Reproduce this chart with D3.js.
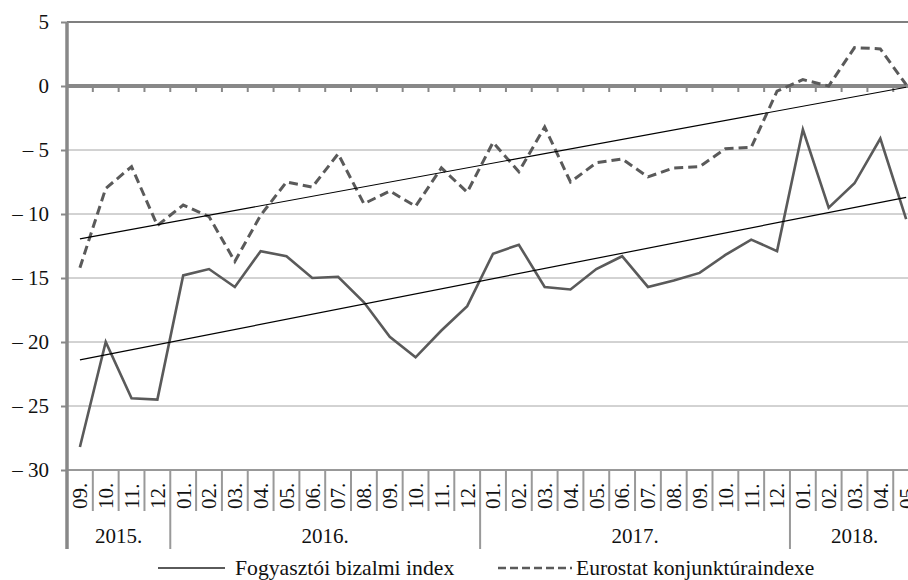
<!DOCTYPE html>
<html>
<head>
<meta charset="utf-8">
<script src="https://cdn.jsdelivr.net/npm/d3@7"></script>
<style>
  body { margin: 0; background: #fff; }
  svg text { font-family: "Liberation Serif", "Times New Roman", Tinos, "DejaVu Serif", serif !important; }
</style>
</head>
<body>
<svg id="chart" width="908" height="580"></svg>
<script>
// data
var months = ["09.","10.","11.","12.",
    "01.","02.","03.","04.","05.","06.","07.","08.","09.","10.","11.","12.",
    "01.","02.","03.","04.","05.","06.","07.","08.","09.","10.","11.","12.",
    "01.","02.","03.","04.","05."];
var years = ["2015.", "2016.", "2017.", "2018."];
var monthsInYear = [4, 12, 12, 5];

var fogyasztoi = [-28.2, -20.0, -24.4, -24.5,
    -14.8, -14.3, -15.7, -12.9, -13.3, -15.0, -14.9, -16.9, -19.6, -21.2, -19.1, -17.2,
    -13.1, -12.4, -15.7, -15.9, -14.3, -13.3, -15.7, -15.2, -14.6, -13.2, -12.0, -12.9,
    -3.4, -9.5, -7.6, -4.1, -10.4];
var eurostat = [-14.2, -8.0, -6.3, -10.9,
    -9.3, -10.2, -13.7, -10.1, -7.5, -7.9, -5.3, -9.2, -8.2, -9.4, -6.4, -8.3,
    -4.4, -6.7, -3.2, -7.5, -6.0, -5.7, -7.1, -6.4, -6.3, -4.9, -4.8, -0.4,
    0.5, 0.0, 3.0, 2.9, 0.1];

// trend lines: value at first and last month
var fogyasztoiTrend = [-21.4, -8.7];
var eurostatTrend = [-11.95, -0.1];

var yTicks = [5, 0, -5, -10, -15, -20, -25, -30];
var legendNames = ["Fogyasztói bizalmi index", "Eurostat konjunktúraindexe"];

var xpad = 67;
var bandW = 25.82;
var yTop = 22;
var yBottom = 470;
var lineColor = "#5a5a5a";

var svg = d3.select("#chart");

var xScale = d3.scaleBand()
    .domain(d3.range(months.length))
    .range([xpad, xpad + bandW * months.length])
    .padding(0);

var yScale = d3.scaleLinear()
    .domain([-30, 5])
    .range([yBottom, yTop]);

function cx(i) { return xScale(i) + xScale.bandwidth() / 2; }

//---GRID
svg.append("g")
    .selectAll("line")
    .data(yTicks.filter(function(d) { return d < 0 && d > -30; }))
    .enter().append("line")
    .attr("x1", xpad).attr("x2", 920)
    .attr("y1", function(d) { return yScale(d); })
    .attr("y2", function(d) { return yScale(d); })
    .attr("stroke", "#a6a6a6")
    .attr("stroke-width", 1);

svg.append("line")
    .attr("x1", xpad).attr("x2", 920)
    .attr("y1", yScale(5)).attr("y2", yScale(5))
    .attr("stroke", "#555").attr("stroke-width", 1.5);

svg.append("line")
    .attr("x1", xpad).attr("x2", 920)
    .attr("y1", yScale(-30)).attr("y2", yScale(-30))
    .attr("stroke", "#333").attr("stroke-width", 1);

// zero line with small ticks under it
svg.append("line")
    .attr("x1", xpad).attr("x2", 920)
    .attr("y1", yScale(0)).attr("y2", yScale(0))
    .attr("stroke", "#888").attr("stroke-width", 4);

svg.append("g")
    .selectAll("line")
    .data(d3.range(1, months.length))
    .enter().append("line")
    .attr("x1", function(d) { return xScale(d); })
    .attr("x2", function(d) { return xScale(d); })
    .attr("y1", yScale(0))
    .attr("y2", yScale(0) + 6)
    .attr("stroke", "#888").attr("stroke-width", 2);

//---Y AXIS
var yAxis = svg.append("g")
    .attr("transform", "translate(" + xpad + ",0)")
    .call(d3.axisLeft(yScale)
        .tickValues(yTicks)
        .tickSize(6)
        .tickPadding(12)
        .tickFormat(function(d) { return d < 0 ? "\u2013 " + Math.abs(d) : d; }));

yAxis.select(".domain").remove();
yAxis.selectAll(".tick line").attr("stroke", "#888").attr("stroke-width", 2);
yAxis.selectAll(".tick text")
    .attr("font-size", 21)
    .attr("fill", "#111");

svg.append("line")
    .attr("x1", xpad).attr("x2", xpad)
    .attr("y1", yTop).attr("y2", 549)
    .attr("stroke", "#888").attr("stroke-width", 3.5);

//---CATEGORY AXIS
var yearStart = [0];
monthsInYear.forEach(function(n, i) { yearStart.push(yearStart[i] + n); });

svg.append("g")
    .selectAll("line")
    .data(d3.range(1, months.length))
    .enter().append("line")
    .attr("x1", function(d) { return xScale(d); })
    .attr("x2", function(d) { return xScale(d); })
    .attr("y1", yBottom)
    .attr("y2", function(d) { return yearStart.indexOf(d) > 0 ? 549 : 511; })
    .attr("stroke", "#999").attr("stroke-width", 2);

svg.append("g")
    .selectAll("text")
    .data(months)
    .enter().append("text")
    .attr("transform", function(d, i) { return "translate(" + cx(i) + ",509) rotate(-90)"; })
    .attr("dy", "0.35em")
    .attr("font-size", 21)
    .attr("fill", "#111")
    .text(function(d) { return d; });

svg.append("g")
    .selectAll("text")
    .data(years)
    .enter().append("text")
    .attr("x", function(d, i) {
        return (xScale(yearStart[i]) + xpad + bandW * yearStart[i + 1]) / 2;
    })
    .attr("y", 543)
    .attr("text-anchor", "middle")
    .attr("font-size", 21)
    .attr("fill", "#111")
    .text(function(d) { return d; });

//---LINES
var lineGen = d3.line()
    .x(function(d, i) { return cx(i); })
    .y(function(d) { return yScale(d); });

svg.append("path")
    .datum(fogyasztoi)
    .attr("d", lineGen)
    .attr("fill", "none")
    .attr("stroke", lineColor)
    .attr("stroke-width", 2.6)
    .attr("stroke-linejoin", "miter");

svg.append("path")
    .datum(eurostat)
    .attr("d", lineGen)
    .attr("fill", "none")
    .attr("stroke", lineColor)
    .attr("stroke-width", 3)
    .attr("stroke-dasharray", "9,5");

// trend lines
[fogyasztoiTrend, eurostatTrend].forEach(function(t) {
    svg.append("line")
        .attr("x1", cx(0)).attr("x2", cx(months.length - 1))
        .attr("y1", yScale(t[0])).attr("y2", yScale(t[1]))
        .attr("stroke", "#000").attr("stroke-width", 1.2);
});

//---LEGEND
var legend = svg.append("g");

legend.append("line")
    .attr("x1", 158).attr("x2", 225).attr("y1", 568).attr("y2", 568)
    .attr("stroke", lineColor).attr("stroke-width", 2.2);
legend.append("text")
    .attr("x", 235).attr("y", 575)
    .attr("font-size", 21.7).attr("fill", "#111")
    .text(legendNames[0]);

legend.append("line")
    .attr("x1", 498).attr("x2", 572).attr("y1", 568).attr("y2", 568)
    .attr("stroke", lineColor).attr("stroke-width", 2.6)
    .attr("stroke-dasharray", "8,4");
legend.append("text")
    .attr("x", 576).attr("y", 575)
    .attr("font-size", 21.5).attr("fill", "#111")
    .text(legendNames[1]);
</script>
</body>
</html>
